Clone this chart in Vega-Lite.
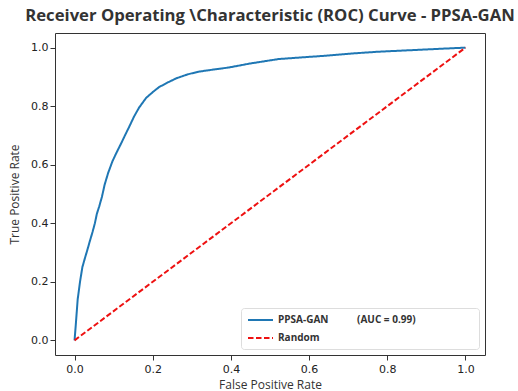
{
  "$schema": "https://vega.github.io/schema/vega-lite/v6.json",
  "width": 430,
  "height": 322,
  "autosize": {"type": "none"},
  "padding": {"left": 55, "top": 33, "right": 33, "bottom": 36},
  "background": "white",
  "title": {
    "text": "Receiver Operating \\Characteristic (ROC) Curve - PPSA-GAN",
    "font": "Open Sans",
    "fontSize": 16.7,
    "fontWeight": "bold",
    "color": "#333333",
    "anchor": "middle",
    "offset": 8
  },
  "data": {
    "values": [
      {"series": "PPSA-GAN", "fpr": 0, "tpr": 0},
      {"series": "PPSA-GAN", "fpr": 0.003, "tpr": 0.05},
      {"series": "PPSA-GAN", "fpr": 0.008, "tpr": 0.14},
      {"series": "PPSA-GAN", "fpr": 0.014, "tpr": 0.2},
      {"series": "PPSA-GAN", "fpr": 0.02, "tpr": 0.25},
      {"series": "PPSA-GAN", "fpr": 0.027, "tpr": 0.283},
      {"series": "PPSA-GAN", "fpr": 0.033, "tpr": 0.31},
      {"series": "PPSA-GAN", "fpr": 0.04, "tpr": 0.343},
      {"series": "PPSA-GAN", "fpr": 0.046, "tpr": 0.37},
      {"series": "PPSA-GAN", "fpr": 0.052, "tpr": 0.4},
      {"series": "PPSA-GAN", "fpr": 0.057, "tpr": 0.432},
      {"series": "PPSA-GAN", "fpr": 0.063, "tpr": 0.457},
      {"series": "PPSA-GAN", "fpr": 0.07, "tpr": 0.49},
      {"series": "PPSA-GAN", "fpr": 0.077, "tpr": 0.532},
      {"series": "PPSA-GAN", "fpr": 0.086, "tpr": 0.572},
      {"series": "PPSA-GAN", "fpr": 0.097, "tpr": 0.612},
      {"series": "PPSA-GAN", "fpr": 0.108, "tpr": 0.643},
      {"series": "PPSA-GAN", "fpr": 0.12, "tpr": 0.675},
      {"series": "PPSA-GAN", "fpr": 0.13, "tpr": 0.703},
      {"series": "PPSA-GAN", "fpr": 0.14, "tpr": 0.73},
      {"series": "PPSA-GAN", "fpr": 0.152, "tpr": 0.764},
      {"series": "PPSA-GAN", "fpr": 0.165, "tpr": 0.795},
      {"series": "PPSA-GAN", "fpr": 0.183, "tpr": 0.828},
      {"series": "PPSA-GAN", "fpr": 0.2, "tpr": 0.848},
      {"series": "PPSA-GAN", "fpr": 0.216, "tpr": 0.865},
      {"series": "PPSA-GAN", "fpr": 0.24, "tpr": 0.882},
      {"series": "PPSA-GAN", "fpr": 0.26, "tpr": 0.895},
      {"series": "PPSA-GAN", "fpr": 0.29, "tpr": 0.909},
      {"series": "PPSA-GAN", "fpr": 0.318, "tpr": 0.918},
      {"series": "PPSA-GAN", "fpr": 0.36, "tpr": 0.926},
      {"series": "PPSA-GAN", "fpr": 0.394, "tpr": 0.932},
      {"series": "PPSA-GAN", "fpr": 0.45, "tpr": 0.946},
      {"series": "PPSA-GAN", "fpr": 0.522, "tpr": 0.961},
      {"series": "PPSA-GAN", "fpr": 0.585, "tpr": 0.967},
      {"series": "PPSA-GAN", "fpr": 0.649, "tpr": 0.973},
      {"series": "PPSA-GAN", "fpr": 0.71, "tpr": 0.98},
      {"series": "PPSA-GAN", "fpr": 0.776, "tpr": 0.986},
      {"series": "PPSA-GAN", "fpr": 0.84, "tpr": 0.99},
      {"series": "PPSA-GAN", "fpr": 0.903, "tpr": 0.994},
      {"series": "PPSA-GAN", "fpr": 0.95, "tpr": 0.997},
      {"series": "PPSA-GAN", "fpr": 1.0, "tpr": 1.0},
      {"series": "Random", "fpr": 0, "tpr": 0},
      {"series": "Random", "fpr": 1, "tpr": 1}
    ]
  },
  "mark": {"type": "line", "strokeWidth": 2},
  "encoding": {
    "x": {
      "field": "fpr", "type": "quantitative",
      "scale": {"domain": [-0.05, 1.05], "nice": false, "zero": false},
      "axis": {"title": "False Positive Rate", "values": [0, 0.2, 0.4, 0.6, 0.8, 1.0], "format": ".1f"}
    },
    "y": {
      "field": "tpr", "type": "quantitative",
      "scale": {"domain": [-0.05, 1.05], "nice": false, "zero": false},
      "axis": {"title": "True Positive Rate", "values": [0, 0.2, 0.4, 0.6, 0.8, 1.0], "format": ".1f"}
    },
    "color": {
      "field": "series", "type": "nominal",
      "scale": {"domain": ["PPSA-GAN", "Random"], "range": ["#1f77b4", "#ee1111"]},
      "legend": {
        "title": null,
        "orient": "none",
        "legendX": 186,
        "legendY": 275,
        "symbolType": "M-1,0H4",
        "symbolStrokeWidth": 2,
        "symbolSize": 100,
        "labelFont": "Open Sans",
        "labelFontSize": 10,
        "labelFontWeight": "bold",
        "labelColor": "#333333",
        "labelOffset": 19,
        "labelLimit": 400,
        "labelExpr": "datum.label == 'PPSA-GAN' ? 'PPSA-GAN\u00a0\u00a0\u00a0\u00a0\u00a0\u00a0\u00a0\u00a0\u00a0\u00a0\u00a0(AUC = 0.99)\u00a0\u00a0\u00a0\u00a0\u00a0\u00a0\u00a0\u00a0\u00a0\u00a0\u00a0\u00a0\u00a0\u00a0\u00a0\u00a0\u00a0\u00a0\u00a0\u00a0\u00a0\u00a0\u200b' : datum.label",
        "rowPadding": 7,
        "padding": 6,
        "fillColor": "white",
        "strokeColor": "#dddddd",
        "cornerRadius": 3
      }
    },
    "strokeDash": {
      "field": "series", "type": "nominal",
      "scale": {"domain": ["PPSA-GAN", "Random"], "range": [[1, 0], [5.5, 2.5]]},
      "legend": null
    }
  },
  "config": {
    "view": {"stroke": "#333333", "strokeWidth": 1},
    "axis": {
      "grid": false,
      "domain": false,
      "ticks": true,
      "tickSize": 5,
      "tickColor": "#333333",
      "labelFont": "DejaVu Sans",
      "labelFontSize": 11,
      "labelColor": "#222222",
      "titleFont": "Open Sans",
      "titleFontSize": 12,
      "titleFontWeight": "normal",
      "titleColor": "#333333"
    },
    "axisX": {"labelPadding": 3, "titlePadding": 5},
    "axisY": {"labelPadding": 2, "titlePadding": 9}
  }
}
